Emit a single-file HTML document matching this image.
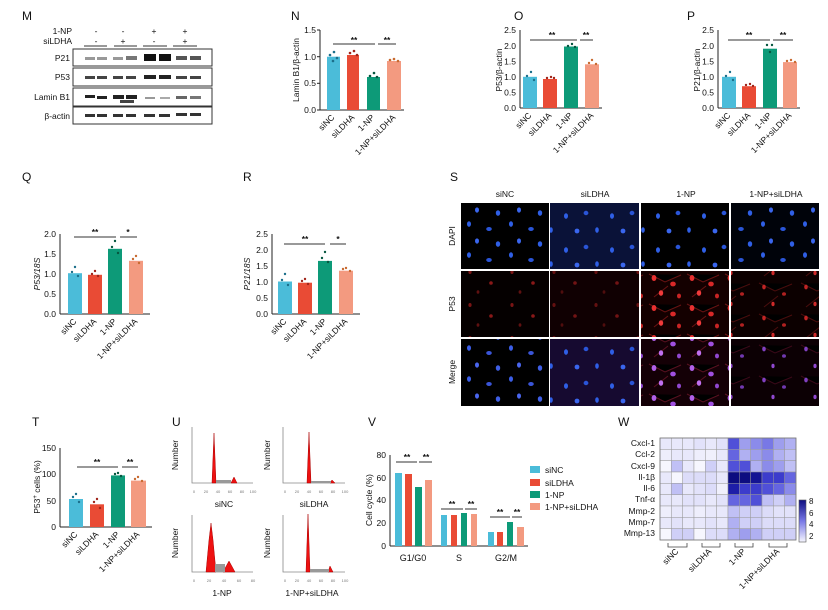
<!DOCTYPE html>
<html><head><meta charset="utf-8"><style>
html,body{margin:0;padding:0;background:#fff;}
svg{display:block;font-family:"Liberation Sans",Arial,sans-serif;}
</style></head><body>
<svg width="828" height="610" viewBox="0 0 828 610" xmlns="http://www.w3.org/2000/svg">
<defs>
<pattern id="dA" width="42" height="31" patternUnits="userSpaceOnUse"><ellipse cx="7" cy="7" rx="2" ry="2.8" fill="#2f5fe6"/><ellipse cx="27" cy="12" rx="2.8" ry="2" fill="#2a55d8"/><ellipse cx="15" cy="24" rx="2" ry="2.6" fill="#3a66ee"/><ellipse cx="36" cy="27" rx="2.2" ry="2.8" fill="#2f5fe6"/></pattern>
<pattern id="dB" width="46" height="34" patternUnits="userSpaceOnUse" patternTransform="translate(7,4)"><ellipse cx="7" cy="8" rx="2" ry="2.8" fill="#2f5fe6"/><ellipse cx="27" cy="5" rx="2.4" ry="2.2" fill="#2a55d8"/><ellipse cx="18" cy="23" rx="2.4" ry="2.4" fill="#3a66ee"/><ellipse cx="38" cy="22" rx="1.8" ry="2.8" fill="#2f5fe6"/></pattern>
<pattern id="pLow" width="42" height="33" patternUnits="userSpaceOnUse"><ellipse cx="8" cy="8" rx="1.6" ry="2" fill="#7a1414"/><ellipse cx="29" cy="19" rx="1.8" ry="1.8" fill="#8a1818"/><ellipse cx="16" cy="28" rx="1.4" ry="1.8" fill="#601010"/></pattern>
<pattern id="pHi" width="38" height="30" patternUnits="userSpaceOnUse"><path d="M3 4 L19 12 L35 5 M8 27 L22 16" stroke="#6a1212" stroke-width="1"/><ellipse cx="8" cy="8" rx="2.4" ry="3" fill="#e83030"/><ellipse cx="27" cy="14" rx="2.8" ry="2.4" fill="#d82828"/><ellipse cx="15" cy="23" rx="2.2" ry="2.8" fill="#f03a3a"/><ellipse cx="33" cy="26" rx="2" ry="2.4" fill="#c82424"/></pattern>
<pattern id="pMid" width="42" height="31" patternUnits="userSpaceOnUse"><path d="M3 4 L19 12 L36 5 M8 28 L22 17" stroke="#4a0c0c" stroke-width="1"/><ellipse cx="8" cy="8" rx="1.8" ry="2.4" fill="#c02424"/><ellipse cx="28" cy="15" rx="2" ry="1.8" fill="#b02020"/><ellipse cx="17" cy="25" rx="1.6" ry="2.2" fill="#d02a2a"/></pattern>
<pattern id="mA" width="42" height="31" patternUnits="userSpaceOnUse"><ellipse cx="7" cy="7" rx="2" ry="2.8" fill="#3b5ee8"/><ellipse cx="27" cy="12" rx="2.8" ry="2" fill="#3a55d8"/><ellipse cx="15" cy="24" rx="2" ry="2.6" fill="#4a66ee"/><ellipse cx="36" cy="27" rx="2.2" ry="2.8" fill="#3f5fe6"/></pattern>
<pattern id="mH" width="38" height="30" patternUnits="userSpaceOnUse"><path d="M3 4 L19 12 L35 5 M8 27 L22 16" stroke="#5a1020" stroke-width="1"/><ellipse cx="8" cy="8" rx="2.4" ry="3" fill="#b060e8"/><ellipse cx="27" cy="14" rx="2.8" ry="2.4" fill="#a050e0"/><ellipse cx="15" cy="23" rx="2.2" ry="2.8" fill="#c070f0"/><ellipse cx="33" cy="26" rx="2" ry="2.4" fill="#9048d0"/></pattern>
<pattern id="mM" width="42" height="31" patternUnits="userSpaceOnUse"><path d="M3 4 L19 12 L36 5" stroke="#3a0818" stroke-width="1"/><ellipse cx="8" cy="8" rx="1.8" ry="2.4" fill="#8040c0"/><ellipse cx="28" cy="15" rx="2" ry="1.8" fill="#7038b0"/><ellipse cx="17" cy="25" rx="1.6" ry="2.2" fill="#9048d0"/></pattern>
</defs>

<g font-size="12" fill="#111">
<text x="22" y="20">M</text><text x="291" y="20">N</text><text x="514" y="20">O</text><text x="687" y="20">P</text>
<text x="22" y="181">Q</text><text x="243" y="181">R</text><text x="450" y="181">S</text>
<text x="32" y="426">T</text><text x="172" y="426">U</text><text x="368" y="426">V</text><text x="618" y="426">W</text>
</g>

<!-- M western blot -->
<g font-size="8.5" fill="#111">
<text x="72" y="34" text-anchor="end">1-NP</text><text x="72" y="44" text-anchor="end">siLDHA</text>
<g text-anchor="middle"><text x="96" y="34">-</text><text x="123" y="34">-</text><text x="154" y="34">+</text><text x="185" y="34">+</text>
<text x="96" y="44">-</text><text x="123" y="44">+</text><text x="154" y="44">-</text><text x="185" y="44">+</text></g>
<g stroke="#333" stroke-width="1"><line x1="84" y1="46" x2="107" y2="46"/><line x1="114" y1="46" x2="137" y2="46"/><line x1="143" y1="46" x2="167" y2="46"/><line x1="173" y1="46" x2="197" y2="46"/></g>
<text x="70" y="61" text-anchor="end">P21</text><text x="70" y="80" text-anchor="end">P53</text><text x="70" y="100" text-anchor="end">Lamin B1</text><text x="70" y="119" text-anchor="end">β-actin</text>
</g>
<g fill="#fff" stroke="#333" stroke-width="1"><rect x="73" y="49" width="139" height="17"/><rect x="73" y="68" width="139" height="18"/><rect x="73" y="88" width="139" height="18"/><rect x="73" y="107" width="139" height="17"/></g>
<g fill="#555"><rect x="85" y="57" width="10" height="3" opacity=".6"/><rect x="97" y="57" width="10" height="3" opacity=".6"/><rect x="113" y="57" width="10" height="3" opacity=".6"/><rect x="126" y="56" width="11" height="4" opacity=".8"/><rect x="144" y="54" width="12" height="7" fill="#111"/><rect x="159" y="54" width="12" height="7" fill="#111"/><rect x="176" y="56" width="11" height="4"/><rect x="190" y="56" width="11" height="4"/></g>
<g fill="#444"><rect x="85" y="76" width="10" height="3"/><rect x="97" y="76" width="10" height="3"/><rect x="113" y="76" width="10" height="3"/><rect x="126" y="76" width="10" height="3"/><rect x="144" y="75" width="12" height="4" fill="#222"/><rect x="159" y="75" width="12" height="4" fill="#222"/><rect x="176" y="76" width="11" height="3"/><rect x="190" y="76" width="11" height="3"/></g>
<g fill="#222"><rect x="85" y="95" width="10" height="3"/><rect x="97" y="96" width="10" height="3"/><rect x="113" y="95" width="11" height="4"/><rect x="126" y="95" width="11" height="4"/><rect x="120" y="100" width="14" height="3" fill="#444"/><rect x="145" y="97" width="10" height="2" fill="#999"/><rect x="160" y="97" width="10" height="2" fill="#aaa"/><rect x="176" y="96" width="11" height="3" fill="#666"/><rect x="190" y="96" width="11" height="3" fill="#777"/></g>
<g fill="#333"><rect x="85" y="114" width="10" height="3"/><rect x="97" y="114" width="10" height="3"/><rect x="113" y="114" width="10" height="3"/><rect x="126" y="114" width="10" height="3"/><rect x="144" y="114" width="11" height="3"/><rect x="159" y="114" width="11" height="3"/><rect x="176" y="113" width="11" height="3"/><rect x="190" y="113" width="11" height="3"/></g>

<g font-size="8.5" fill="#111" stroke-width="1">
<!-- N -->
<g>
<line x1="320" y1="30" x2="320" y2="110" stroke="#222"/><line x1="320" y1="110" x2="404" y2="110" stroke="#222"/>
<g stroke="#222"><line x1="317" y1="110" x2="320" y2="110"/><line x1="317" y1="83.3" x2="320" y2="83.3"/><line x1="317" y1="56.7" x2="320" y2="56.7"/><line x1="317" y1="30" x2="320" y2="30"/></g>
<g text-anchor="end"><text x="316" y="113">0.0</text><text x="316" y="86">0.5</text><text x="316" y="60">1.0</text><text x="316" y="33">1.5</text></g>
<text transform="translate(299,70) rotate(-90)" text-anchor="middle">Lamin B1/β-actin</text>
<rect x="327" y="56.7" width="13" height="53.3" fill="#4bbcd9"/><rect x="347" y="55" width="12" height="55" fill="#e94b35"/><rect x="367" y="77" width="13" height="33" fill="#0d9a78"/><rect x="387" y="61" width="14" height="49" fill="#f39a80"/>
<g fill="#1b6f8a"><circle cx="330" cy="55" r="1.3"/><circle cx="334" cy="52" r="1.3"/><circle cx="337" cy="58" r="1.3"/><circle cx="333" cy="61" r="1.3"/></g>
<g fill="#a0241a"><circle cx="350" cy="53" r="1.3"/><circle cx="354" cy="51" r="1.3"/><circle cx="357" cy="55" r="1.3"/></g>
<g fill="#06563f"><circle cx="370" cy="76" r="1.3"/><circle cx="374" cy="73" r="1.3"/><circle cx="377" cy="77" r="1.3"/></g>
<g fill="#c86a30"><circle cx="390" cy="60" r="1.3"/><circle cx="394" cy="59" r="1.3"/><circle cx="398" cy="61" r="1.3"/></g>
<g stroke="#333"><line x1="333" y1="44" x2="375" y2="44"/><line x1="378" y1="44" x2="396" y2="44"/></g>
<text x="354" y="43" text-anchor="middle" font-weight="bold">**</text><text x="387" y="43" text-anchor="middle" font-weight="bold">**</text>
<g text-anchor="end"><text transform="translate(335,118) rotate(-45)">siNC</text><text transform="translate(355,118) rotate(-45)">siLDHA</text><text transform="translate(375,118) rotate(-45)">1-NP</text><text transform="translate(396,118) rotate(-45)">1-NP+siLDHA</text></g>
</g>
<!-- O -->
<g>
<line x1="520" y1="30" x2="520" y2="108" stroke="#222"/><line x1="520" y1="108" x2="602" y2="108" stroke="#222"/>
<g text-anchor="end"><text x="516" y="111">0.0</text><text x="516" y="95.5">0.5</text><text x="516" y="80">1.0</text><text x="516" y="64.5">1.5</text><text x="516" y="49">2.0</text><text x="516" y="33">2.5</text></g>
<text transform="translate(502,70) rotate(-90)" text-anchor="middle">P53/β-actin</text>
<rect x="523" y="76.8" width="14" height="31.2" fill="#4bbcd9"/><rect x="543" y="79" width="14" height="29" fill="#e94b35"/><rect x="564" y="46.5" width="14" height="61.5" fill="#0d9a78"/><rect x="585" y="64.3" width="14" height="43.7" fill="#f39a80"/>
<g fill="#1b6f8a"><circle cx="527" cy="76" r="1.2"/><circle cx="531" cy="72" r="1.2"/><circle cx="534" cy="80" r="1.2"/></g>
<g fill="#a0241a"><circle cx="547" cy="78" r="1.2"/><circle cx="551" cy="77" r="1.2"/><circle cx="554" cy="78" r="1.2"/></g>
<g fill="#06563f"><circle cx="568" cy="46" r="1.2"/><circle cx="572" cy="44" r="1.2"/><circle cx="575" cy="47" r="1.2"/></g>
<g fill="#c86a30"><circle cx="589" cy="63" r="1.2"/><circle cx="592" cy="60" r="1.2"/><circle cx="596" cy="64" r="1.2"/></g>
<g stroke="#333"><line x1="530" y1="40" x2="577" y2="40"/><line x1="580" y1="40" x2="593" y2="40"/></g>
<text x="552" y="38" text-anchor="middle" font-weight="bold">**</text><text x="586" y="38" text-anchor="middle" font-weight="bold">**</text>
<g text-anchor="end"><text transform="translate(532,116) rotate(-45)">siNC</text><text transform="translate(552,116) rotate(-45)">siLDHA</text><text transform="translate(573,116) rotate(-45)">1-NP</text><text transform="translate(594,116) rotate(-45)">1-NP+siLDHA</text></g>
</g>
<!-- P -->
<g>
<line x1="718" y1="30" x2="718" y2="108" stroke="#222"/><line x1="718" y1="108" x2="800" y2="108" stroke="#222"/>
<g text-anchor="end"><text x="714" y="111">0.0</text><text x="714" y="95.5">0.5</text><text x="714" y="80">1.0</text><text x="714" y="64.5">1.5</text><text x="714" y="49">2.0</text><text x="714" y="33">2.5</text></g>
<text transform="translate(700,70) rotate(-90)" text-anchor="middle">P21/β-actin</text>
<rect x="722" y="76.8" width="14" height="31.2" fill="#4bbcd9"/><rect x="742" y="86.2" width="14" height="21.8" fill="#e94b35"/><rect x="763" y="48.7" width="14" height="59.3" fill="#0d9a78"/><rect x="783" y="62.1" width="14" height="45.9" fill="#f39a80"/>
<g fill="#1b6f8a"><circle cx="726" cy="76" r="1.2"/><circle cx="730" cy="72" r="1.2"/><circle cx="733" cy="80" r="1.2"/></g>
<g fill="#a0241a"><circle cx="746" cy="85" r="1.2"/><circle cx="750" cy="84" r="1.2"/><circle cx="753" cy="86" r="1.2"/></g>
<g fill="#06563f"><circle cx="767" cy="45" r="1.2"/><circle cx="772" cy="45" r="1.2"/><circle cx="770" cy="52" r="1.2"/></g>
<g fill="#c86a30"><circle cx="787" cy="61" r="1.2"/><circle cx="791" cy="60" r="1.2"/><circle cx="795" cy="62" r="1.2"/></g>
<g stroke="#333"><line x1="728" y1="40" x2="770" y2="40"/><line x1="773" y1="40" x2="793" y2="40"/></g>
<text x="749" y="38" text-anchor="middle" font-weight="bold">**</text><text x="783" y="38" text-anchor="middle" font-weight="bold">**</text>
<g text-anchor="end"><text transform="translate(731,116) rotate(-45)">siNC</text><text transform="translate(751,116) rotate(-45)">siLDHA</text><text transform="translate(772,116) rotate(-45)">1-NP</text><text transform="translate(792,116) rotate(-45)">1-NP+siLDHA</text></g>
</g>
<!-- Q -->
<g>
<line x1="60" y1="234" x2="60" y2="314" stroke="#222"/><line x1="60" y1="314" x2="150" y2="314" stroke="#222"/>
<g text-anchor="end"><text x="56" y="317">0.0</text><text x="56" y="297">0.5</text><text x="56" y="277">1.0</text><text x="56" y="257">1.5</text><text x="56" y="237">2.0</text></g>
<text transform="translate(40,274) rotate(-90)" text-anchor="middle" font-style="italic">P53/18S</text>
<rect x="68" y="273.2" width="14" height="40.8" fill="#4bbcd9"/><rect x="88" y="274.8" width="14" height="39.2" fill="#e94b35"/><rect x="108" y="248.8" width="14" height="65.2" fill="#0d9a78"/><rect x="129" y="260.8" width="14" height="53.2" fill="#f39a80"/>
<g fill="#1b6f8a"><circle cx="72" cy="272" r="1.2"/><circle cx="75" cy="267" r="1.2"/><circle cx="78" cy="276" r="1.2"/></g>
<g fill="#a0241a"><circle cx="92" cy="274" r="1.2"/><circle cx="95" cy="271" r="1.2"/><circle cx="98" cy="276" r="1.2"/></g>
<g fill="#06563f"><circle cx="112" cy="247" r="1.2"/><circle cx="115" cy="241" r="1.2"/><circle cx="118" cy="253" r="1.2"/></g>
<g fill="#c86a30"><circle cx="133" cy="259" r="1.2"/><circle cx="136" cy="256" r="1.2"/><circle cx="139" cy="263" r="1.2"/></g>
<g stroke="#333"><line x1="74" y1="237" x2="116" y2="237"/><line x1="120" y1="237" x2="137" y2="237"/></g>
<text x="95" y="235" text-anchor="middle" font-weight="bold">**</text><text x="128" y="235" text-anchor="middle" font-weight="bold">*</text>
<g text-anchor="end"><text transform="translate(77,322) rotate(-45)">siNC</text><text transform="translate(97,322) rotate(-45)">siLDHA</text><text transform="translate(117,322) rotate(-45)">1-NP</text><text transform="translate(138,322) rotate(-45)">1-NP+siLDHA</text></g>
</g>
<!-- R -->
<g>
<line x1="272" y1="234" x2="272" y2="314" stroke="#222"/><line x1="272" y1="314" x2="360" y2="314" stroke="#222"/>
<g text-anchor="end"><text x="268" y="317">0.0</text><text x="268" y="301">0.5</text><text x="268" y="285">1.0</text><text x="268" y="269">1.5</text><text x="268" y="253">2.0</text><text x="268" y="237">2.5</text></g>
<text transform="translate(250,274) rotate(-90)" text-anchor="middle" font-style="italic">P21/18S</text>
<rect x="278" y="281.5" width="14" height="32.5" fill="#4bbcd9"/><rect x="298" y="282.7" width="14" height="31.3" fill="#e94b35"/><rect x="318" y="260.9" width="14" height="53.1" fill="#0d9a78"/><rect x="339" y="270.7" width="14" height="43.3" fill="#f39a80"/>
<g fill="#1b6f8a"><circle cx="282" cy="280" r="1.2"/><circle cx="285" cy="274" r="1.2"/><circle cx="288" cy="285" r="1.2"/></g>
<g fill="#a0241a"><circle cx="302" cy="281" r="1.2"/><circle cx="305" cy="279" r="1.2"/><circle cx="308" cy="284" r="1.2"/></g>
<g fill="#06563f"><circle cx="322" cy="258" r="1.2"/><circle cx="325" cy="252" r="1.2"/><circle cx="328" cy="262" r="1.2"/></g>
<g fill="#c86a30"><circle cx="343" cy="269" r="1.2"/><circle cx="346" cy="268" r="1.2"/><circle cx="350" cy="271" r="1.2"/></g>
<g stroke="#333"><line x1="284" y1="244" x2="325" y2="244"/><line x1="330" y1="244" x2="346" y2="244"/></g>
<text x="305" y="242" text-anchor="middle" font-weight="bold">**</text><text x="338" y="242" text-anchor="middle" font-weight="bold">*</text>
<g text-anchor="end"><text transform="translate(287,322) rotate(-45)">siNC</text><text transform="translate(307,322) rotate(-45)">siLDHA</text><text transform="translate(327,322) rotate(-45)">1-NP</text><text transform="translate(348,322) rotate(-45)">1-NP+siLDHA</text></g>
</g>
<!-- T -->
<g>
<line x1="60" y1="448" x2="60" y2="527" stroke="#222"/><line x1="60" y1="527" x2="152" y2="527" stroke="#222"/>
<g text-anchor="end"><text x="56" y="530">0</text><text x="56" y="504">50</text><text x="56" y="477">100</text><text x="56" y="451">150</text></g>
<text transform="translate(40,487) rotate(-90)" text-anchor="middle">P53<tspan font-size="6" dy="-3">+</tspan><tspan dy="3"> cells (%)</tspan></text>
<rect x="69" y="499" width="14" height="28" fill="#4bbcd9"/><rect x="90" y="504.3" width="14" height="22.7" fill="#e94b35"/><rect x="111" y="475.4" width="14" height="51.6" fill="#0d9a78"/><rect x="131" y="480.6" width="15" height="46.4" fill="#f39a80"/>
<g fill="#1b6f8a"><circle cx="73" cy="497" r="1.2"/><circle cx="76" cy="494" r="1.2"/><circle cx="79" cy="502" r="1.2"/></g>
<g fill="#a0241a"><circle cx="94" cy="502" r="1.2"/><circle cx="97" cy="499" r="1.2"/><circle cx="100" cy="508" r="1.2"/></g>
<g fill="#06563f"><circle cx="115" cy="474" r="1.2"/><circle cx="118" cy="473" r="1.2"/><circle cx="121" cy="476" r="1.2"/></g>
<g fill="#c86a30"><circle cx="135" cy="479" r="1.2"/><circle cx="138" cy="477" r="1.2"/><circle cx="142" cy="481" r="1.2"/></g>
<g stroke="#333"><line x1="77" y1="467" x2="118" y2="467"/><line x1="122" y1="467" x2="138" y2="467"/></g>
<text x="97" y="465" text-anchor="middle" font-weight="bold">**</text><text x="130" y="465" text-anchor="middle" font-weight="bold">**</text>
<g text-anchor="end"><text transform="translate(78,535) rotate(-45)">siNC</text><text transform="translate(99,535) rotate(-45)">siLDHA</text><text transform="translate(120,535) rotate(-45)">1-NP</text><text transform="translate(140,535) rotate(-45)">1-NP+siLDHA</text></g>
</g>
<!-- V -->
<g>
<line x1="390" y1="455" x2="390" y2="546" stroke="#222"/><line x1="390" y1="546" x2="528" y2="546" stroke="#222"/>
<g text-anchor="end"><text x="386" y="549">0</text><text x="386" y="526">20</text><text x="386" y="503">40</text><text x="386" y="481">60</text><text x="386" y="458">80</text></g>
<text transform="translate(372,500) rotate(-90)" text-anchor="middle">Cell cycle (%)</text>
<rect x="395" y="473" width="7" height="73" fill="#4bbcd9"/><rect x="405" y="474" width="7" height="72" fill="#e94b35"/><rect x="415" y="487" width="7" height="59" fill="#0d9a78"/><rect x="425" y="480" width="7" height="66" fill="#f39a80"/>
<rect x="441" y="515" width="6" height="31" fill="#4bbcd9"/><rect x="451" y="515" width="6" height="31" fill="#e94b35"/><rect x="461" y="513" width="6" height="33" fill="#0d9a78"/><rect x="471" y="514" width="6" height="32" fill="#f39a80"/>
<rect x="488" y="532" width="6" height="14" fill="#4bbcd9"/><rect x="497" y="532" width="6" height="14" fill="#e94b35"/><rect x="507" y="522" width="6" height="24" fill="#0d9a78"/><rect x="517" y="527" width="7" height="19" fill="#f39a80"/>
<g stroke="#333"><line x1="396" y1="462" x2="417" y2="462"/><line x1="419" y1="462" x2="432" y2="462"/><line x1="441" y1="509" x2="463" y2="509"/><line x1="465" y1="509" x2="477" y2="509"/><line x1="490" y1="517" x2="510" y2="517"/><line x1="512" y1="517" x2="522" y2="517"/></g>
<g text-anchor="middle" font-weight="bold"><text x="407" y="460">**</text><text x="426" y="460">**</text><text x="452" y="507">**</text><text x="471" y="507">**</text><text x="500" y="515">**</text><text x="517" y="515">**</text></g>
<g text-anchor="middle" font-size="9"><text x="413" y="561">G1/G0</text><text x="459" y="561">S</text><text x="506" y="561">G2/M</text></g>
<rect x="530" y="466" width="10" height="7" fill="#4bbcd9"/><rect x="530" y="479" width="10" height="7" fill="#e94b35"/><rect x="530" y="491" width="10" height="7" fill="#0d9a78"/><rect x="530" y="503" width="10" height="7" fill="#f39a80"/>
<text x="545" y="473">siNC</text><text x="545" y="486">siLDHA</text><text x="545" y="498">1-NP</text><text x="545" y="510">1-NP+siLDHA</text>
</g>
</g>

<!-- U histograms -->
<g font-size="8.5" fill="#111">
<g stroke="#888" stroke-width=".8" fill="none">
<path d="M192 427 V483 H253"/><path d="M283 427 V483 H345"/><path d="M192 515 V572 H253"/><path d="M283 515 V572 H345"/>
</g>
<g fill="#e11" stroke="#a00" stroke-width=".5">
<polygon points="212,483 214,433 216,483"/><polygon points="231,483 234,477 237,483"/>
<polygon points="307,483 309,432 311,483"/><polygon points="330,483 332,480 335,483"/>
<polygon points="206,572 209,540 211,523 213,540 216,572"/><polygon points="223,572 229,561 235,572"/>
<polygon points="306,572 308,514 310,572"/><polygon points="328,572 330,566 333,572"/>
</g>
<g fill="#999"><rect x="216" y="480" width="15" height="3"/><rect x="311" y="481" width="20" height="2"/><rect x="215" y="564" width="10" height="8"/><rect x="310" y="569" width="19" height="3"/></g>
<g text-anchor="middle"><text transform="translate(178,455) rotate(-90)">Number</text><text transform="translate(270,455) rotate(-90)">Number</text><text transform="translate(178,543) rotate(-90)">Number</text><text transform="translate(270,543) rotate(-90)">Number</text>
<text x="224" y="507">siNC</text><text x="314" y="507">siLDHA</text><text x="222" y="596">1-NP</text><text x="312" y="596">1-NP+siLDHA</text></g>
<g font-size="4" fill="#777" text-anchor="middle"><text x="194" y="493">0</text><text x="206" y="493">20</text><text x="218" y="493">40</text><text x="230" y="493">60</text><text x="242" y="493">80</text><text x="253" y="493">100</text>
<text x="285" y="493">0</text><text x="297" y="493">20</text><text x="309" y="493">40</text><text x="321" y="493">60</text><text x="333" y="493">80</text><text x="345" y="493">100</text>
<text x="194" y="582">0</text><text x="209" y="582">20</text><text x="224" y="582">40</text><text x="239" y="582">60</text><text x="253" y="582">80</text>
<text x="285" y="582">0</text><text x="297" y="582">20</text><text x="309" y="582">40</text><text x="321" y="582">60</text><text x="333" y="582">80</text><text x="345" y="582">100</text></g>
</g>

<!-- S fluorescence -->
<g font-size="8.5" fill="#111" text-anchor="middle">
<text x="505" y="197">siNC</text><text x="595" y="197">siLDHA</text><text x="686" y="197">1-NP</text><text x="776" y="197">1-NP+siLDHA</text>
<text transform="translate(455,236) rotate(-90)">DAPI</text><text transform="translate(455,304) rotate(-90)">P53</text><text transform="translate(455,372) rotate(-90)">Merge</text>
</g>
<g>
<rect x="461" y="203" width="88" height="66" fill="#000"/><rect x="461" y="203" width="88" height="66" fill="url(#dA)"/>
<rect x="550" y="203" width="89" height="66" fill="#0a1238"/><rect x="550" y="203" width="89" height="66" fill="url(#dB)"/>
<rect x="641" y="203" width="88" height="66" fill="#000"/><rect x="641" y="203" width="88" height="66" fill="url(#dB)"/>
<rect x="731" y="203" width="88" height="66" fill="#00030a"/><rect x="731" y="203" width="88" height="66" fill="url(#dA)"/>
<rect x="461" y="271" width="88" height="66" fill="#050000"/><rect x="461" y="271" width="88" height="66" fill="url(#pLow)"/>
<rect x="550" y="271" width="89" height="66" fill="#100002"/><rect x="550" y="271" width="89" height="66" fill="url(#pLow)" opacity=".8"/>
<rect x="641" y="271" width="88" height="66" fill="#140000"/><rect x="641" y="271" width="88" height="66" fill="url(#pHi)"/>
<rect x="731" y="271" width="88" height="66" fill="#0c0000"/><rect x="731" y="271" width="88" height="66" fill="url(#pMid)"/>
<rect x="461" y="339" width="88" height="67" fill="#000"/><rect x="461" y="339" width="88" height="67" fill="url(#mA)"/>
<rect x="550" y="339" width="89" height="67" fill="#160a30"/><rect x="550" y="339" width="89" height="67" fill="url(#dB)"/>
<rect x="641" y="339" width="88" height="67" fill="#140006"/><rect x="641" y="339" width="88" height="67" fill="url(#mH)"/>
<rect x="731" y="339" width="88" height="67" fill="#0c0004"/><rect x="731" y="339" width="88" height="67" fill="url(#mM)"/>
</g>

<!-- W heatmap -->
<g font-size="8.5" fill="#111" text-anchor="end">
<text x="655" y="446">Cxcl-1</text><text x="655" y="457">Ccl-2</text><text x="655" y="469">Cxcl-9</text><text x="655" y="480">Il-1β</text><text x="655" y="491">Il-6</text><text x="655" y="502">Tnf-α</text><text x="655" y="514">Mmp-2</text><text x="655" y="525">Mmp-7</text><text x="655" y="536">Mmp-13</text>
</g>
<g stroke="#999" stroke-width=".5">
<g transform="translate(660,438)">
<rect x="0" y="0" width="11.33" height="11.33" fill="#e8e8fb"/><rect x="11.33" y="0" width="11.33" height="11.33" fill="#e8e8fb"/><rect x="22.67" y="0" width="11.33" height="11.33" fill="#e8e8fb"/><rect x="34" y="0" width="11.33" height="11.33" fill="#e2e2fa"/><rect x="45.33" y="0" width="11.33" height="11.33" fill="#e8e8fb"/><rect x="56.67" y="0" width="11.33" height="11.33" fill="#e2e2fa"/><rect x="68" y="0" width="11.33" height="11.33" fill="#5050d8"/><rect x="79.33" y="0" width="11.33" height="11.33" fill="#9e9eee"/><rect x="90.67" y="0" width="11.33" height="11.33" fill="#8b8bea"/><rect x="102" y="0" width="11.33" height="11.33" fill="#7878e6"/><rect x="113.33" y="0" width="11.33" height="11.33" fill="#9e9eee"/><rect x="124.67" y="0" width="11.33" height="11.33" fill="#b0b0f2"/>
<rect x="0" y="11.33" width="11.33" height="11.33" fill="#eeeefc"/><rect x="11.33" y="11.33" width="11.33" height="11.33" fill="#e8e8fb"/><rect x="22.67" y="11.33" width="11.33" height="11.33" fill="#e8e8fb"/><rect x="34" y="11.33" width="11.33" height="11.33" fill="#eeeefc"/><rect x="45.33" y="11.33" width="11.33" height="11.33" fill="#f0f0fc"/><rect x="56.67" y="11.33" width="11.33" height="11.33" fill="#e8e8fb"/><rect x="68" y="11.33" width="11.33" height="11.33" fill="#6565e0"/><rect x="79.33" y="11.33" width="11.33" height="11.33" fill="#b0b0f2"/><rect x="90.67" y="11.33" width="11.33" height="11.33" fill="#9e9eee"/><rect x="102" y="11.33" width="11.33" height="11.33" fill="#8b8bea"/><rect x="113.33" y="11.33" width="11.33" height="11.33" fill="#b0b0f2"/><rect x="124.67" y="11.33" width="11.33" height="11.33" fill="#c0c0f5"/>
<rect x="0" y="22.67" width="11.33" height="11.33" fill="#f6f6fe"/><rect x="11.33" y="22.67" width="11.33" height="11.33" fill="#c0c0f5"/><rect x="22.67" y="22.67" width="11.33" height="11.33" fill="#e8e8fb"/><rect x="34" y="22.67" width="11.33" height="11.33" fill="#f6f6fe"/><rect x="45.33" y="22.67" width="11.33" height="11.33" fill="#cfcff7"/><rect x="56.67" y="22.67" width="11.33" height="11.33" fill="#e8e8fb"/><rect x="68" y="22.67" width="11.33" height="11.33" fill="#5050d8"/><rect x="79.33" y="22.67" width="11.33" height="11.33" fill="#5050d8"/><rect x="90.67" y="22.67" width="11.33" height="11.33" fill="#b0b0f2"/><rect x="102" y="22.67" width="11.33" height="11.33" fill="#8b8bea"/><rect x="113.33" y="22.67" width="11.33" height="11.33" fill="#9e9eee"/><rect x="124.67" y="22.67" width="11.33" height="11.33" fill="#c0c0f5"/>
<rect x="0" y="34" width="11.33" height="11.33" fill="#e8e8fb"/><rect x="11.33" y="34" width="11.33" height="11.33" fill="#f6f6fe"/><rect x="22.67" y="34" width="11.33" height="11.33" fill="#dcdcf9"/><rect x="34" y="34" width="11.33" height="11.33" fill="#dcdcf9"/><rect x="45.33" y="34" width="11.33" height="11.33" fill="#dcdcf9"/><rect x="56.67" y="34" width="11.33" height="11.33" fill="#e8e8fb"/><rect x="68" y="34" width="11.33" height="11.33" fill="#0d0d80"/><rect x="79.33" y="34" width="11.33" height="11.33" fill="#0d0d80"/><rect x="90.67" y="34" width="11.33" height="11.33" fill="#141493"/><rect x="102" y="34" width="11.33" height="11.33" fill="#3c3ccc"/><rect x="113.33" y="34" width="11.33" height="11.33" fill="#3c3ccc"/><rect x="124.67" y="34" width="11.33" height="11.33" fill="#6565e0"/>
<rect x="0" y="45.33" width="11.33" height="11.33" fill="#e8e8fb"/><rect x="11.33" y="45.33" width="11.33" height="11.33" fill="#c0c0f5"/><rect x="22.67" y="45.33" width="11.33" height="11.33" fill="#e8e8fb"/><rect x="34" y="45.33" width="11.33" height="11.33" fill="#e2e2fa"/><rect x="45.33" y="45.33" width="11.33" height="11.33" fill="#dcdcf9"/><rect x="56.67" y="45.33" width="11.33" height="11.33" fill="#f0f0fc"/><rect x="68" y="45.33" width="11.33" height="11.33" fill="#1e1ea8"/><rect x="79.33" y="45.33" width="11.33" height="11.33" fill="#3c3ccc"/><rect x="90.67" y="45.33" width="11.33" height="11.33" fill="#3c3ccc"/><rect x="102" y="45.33" width="11.33" height="11.33" fill="#5050d8"/><rect x="113.33" y="45.33" width="11.33" height="11.33" fill="#6565e0"/><rect x="124.67" y="45.33" width="11.33" height="11.33" fill="#8b8bea"/>
<rect x="0" y="56.67" width="11.33" height="11.33" fill="#e8e8fb"/><rect x="11.33" y="56.67" width="11.33" height="11.33" fill="#e8e8fb"/><rect x="22.67" y="56.67" width="11.33" height="11.33" fill="#e2e2fa"/><rect x="34" y="56.67" width="11.33" height="11.33" fill="#e2e2fa"/><rect x="45.33" y="56.67" width="11.33" height="11.33" fill="#e8e8fb"/><rect x="56.67" y="56.67" width="11.33" height="11.33" fill="#e2e2fa"/><rect x="68" y="56.67" width="11.33" height="11.33" fill="#6565e0"/><rect x="79.33" y="56.67" width="11.33" height="11.33" fill="#6565e0"/><rect x="90.67" y="56.67" width="11.33" height="11.33" fill="#5050d8"/><rect x="102" y="56.67" width="11.33" height="11.33" fill="#c0c0f5"/><rect x="113.33" y="56.67" width="11.33" height="11.33" fill="#cfcff7"/><rect x="124.67" y="56.67" width="11.33" height="11.33" fill="#b0b0f2"/>
<rect x="0" y="68" width="11.33" height="11.33" fill="#eeeefc"/><rect x="11.33" y="68" width="11.33" height="11.33" fill="#e8e8fb"/><rect x="22.67" y="68" width="11.33" height="11.33" fill="#e8e8fb"/><rect x="34" y="68" width="11.33" height="11.33" fill="#eeeefc"/><rect x="45.33" y="68" width="11.33" height="11.33" fill="#e8e8fb"/><rect x="56.67" y="68" width="11.33" height="11.33" fill="#e8e8fb"/><rect x="68" y="68" width="11.33" height="11.33" fill="#c0c0f5"/><rect x="79.33" y="68" width="11.33" height="11.33" fill="#cfcff7"/><rect x="90.67" y="68" width="11.33" height="11.33" fill="#cfcff7"/><rect x="102" y="68" width="11.33" height="11.33" fill="#dcdcf9"/><rect x="113.33" y="68" width="11.33" height="11.33" fill="#e2e2fa"/><rect x="124.67" y="68" width="11.33" height="11.33" fill="#e2e2fa"/>
<rect x="0" y="79.33" width="11.33" height="11.33" fill="#e8e8fb"/><rect x="11.33" y="79.33" width="11.33" height="11.33" fill="#e2e2fa"/><rect x="22.67" y="79.33" width="11.33" height="11.33" fill="#e8e8fb"/><rect x="34" y="79.33" width="11.33" height="11.33" fill="#e8e8fb"/><rect x="45.33" y="79.33" width="11.33" height="11.33" fill="#e2e2fa"/><rect x="56.67" y="79.33" width="11.33" height="11.33" fill="#e8e8fb"/><rect x="68" y="79.33" width="11.33" height="11.33" fill="#b0b0f2"/><rect x="79.33" y="79.33" width="11.33" height="11.33" fill="#cfcff7"/><rect x="90.67" y="79.33" width="11.33" height="11.33" fill="#cfcff7"/><rect x="102" y="79.33" width="11.33" height="11.33" fill="#dcdcf9"/><rect x="113.33" y="79.33" width="11.33" height="11.33" fill="#dcdcf9"/><rect x="124.67" y="79.33" width="11.33" height="11.33" fill="#dcdcf9"/>
<rect x="0" y="90.67" width="11.33" height="11.33" fill="#f6f6fe"/><rect x="11.33" y="90.67" width="11.33" height="11.33" fill="#cfcff7"/><rect x="22.67" y="90.67" width="11.33" height="11.33" fill="#cfcff7"/><rect x="34" y="90.67" width="11.33" height="11.33" fill="#f6f6fe"/><rect x="45.33" y="90.67" width="11.33" height="11.33" fill="#dcdcf9"/><rect x="56.67" y="90.67" width="11.33" height="11.33" fill="#dcdcf9"/><rect x="68" y="90.67" width="11.33" height="11.33" fill="#b0b0f2"/><rect x="79.33" y="90.67" width="11.33" height="11.33" fill="#9e9eee"/><rect x="90.67" y="90.67" width="11.33" height="11.33" fill="#b0b0f2"/><rect x="102" y="90.67" width="11.33" height="11.33" fill="#cfcff7"/><rect x="113.33" y="90.67" width="11.33" height="11.33" fill="#cfcff7"/><rect x="124.67" y="90.67" width="11.33" height="11.33" fill="#cfcff7"/>
</g>
<rect x="660" y="438" width="136" height="102" fill="none" stroke="#777" stroke-width=".8"/>
</g>
<defs><linearGradient id="cb" x1="0" y1="1" x2="0" y2="0"><stop offset="0" stop-color="#f6f6fe"/><stop offset=".5" stop-color="#7878e6"/><stop offset="1" stop-color="#0d0d80"/></linearGradient></defs>
<rect x="799" y="500" width="7" height="42" fill="url(#cb)" stroke="#555" stroke-width=".6"/>
<g font-size="8" fill="#111"><text x="809" y="504">8</text><text x="809" y="516">6</text><text x="809" y="527">4</text><text x="809" y="539">2</text></g>
<g stroke="#444" stroke-width=".8" fill="none"><path d="M668 543 v4 h19 v-4"/><path d="M702 543 v4 h18 v-4"/><path d="M735 543 v4 h18 v-4"/><path d="M769 543 v4 h18 v-4"/></g>
<g font-size="8.5" fill="#111" text-anchor="end"><text transform="translate(679,552) rotate(-45)">siNC</text><text transform="translate(712,552) rotate(-45)">siLDHA</text><text transform="translate(746,552) rotate(-45)">1-NP</text><text transform="translate(780,552) rotate(-45)">1-NP+siLDHA</text></g>
</svg>
</body></html>
